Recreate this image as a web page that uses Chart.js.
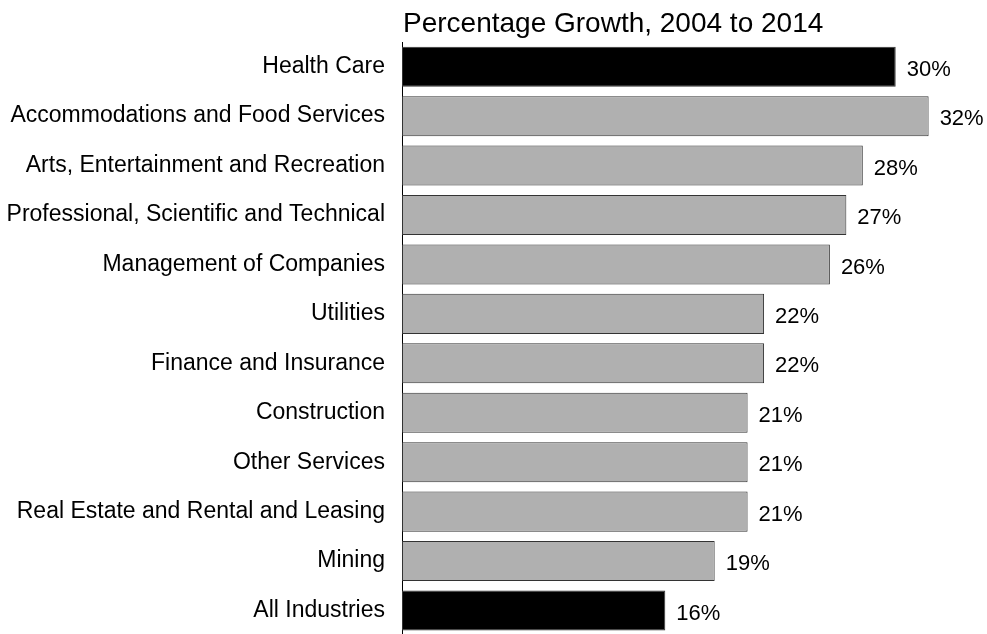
<!DOCTYPE html>
<html>
<head>
<meta charset="utf-8">
<script src="https://cdn.jsdelivr.net/npm/chart.js@4/dist/chart.umd.min.js"></script>
<style>
  html, body { margin: 0; padding: 0; background: #fff; overflow: hidden; }
  #wrap { width: 987px; height: 666px; }
</style>
</head>
<body>
<div id="wrap"><canvas id="growthChart" width="987" height="666"></canvas></div>
<script>
const industries = [
  'Health Care',
  'Accommodations and Food Services',
  'Arts, Entertainment and Recreation',
  'Professional, Scientific and Technical',
  'Management of Companies',
  'Utilities',
  'Finance and Insurance',
  'Construction',
  'Other Services',
  'Real Estate and Rental and Leasing',
  'Mining',
  'All Industries'
];
const growthPct = [30, 32, 28, 27, 26, 22, 22, 21, 21, 21, 19, 16];
const highlighted = ['Health Care', 'All Industries'];
const chartTitle = 'Percentage Growth, 2004 to 2014';

const FONT = 'Liberation Sans, Arial, Helvetica, sans-serif';

const barFill = industries.map(name => highlighted.includes(name) ? '#000000' : '#b0b0b0');

// title sits flush with the left edge of the plot area
const titlePlugin = {
  id: 'leftTitle',
  afterDraw(chart) {
    const c = chart.ctx;
    c.save();
    c.font = '28px ' + FONT;
    c.fillStyle = '#000';
    c.textAlign = 'left';
    c.textBaseline = 'alphabetic';
    c.fillText(chartTitle, chart.chartArea.left + 1, 32);
    c.restore();
  }
};

// percentage text to the right of each bar
const valueLabels = {
  id: 'valueLabels',
  afterDatasetsDraw(chart) {
    const c = chart.ctx;
    const meta = chart.getDatasetMeta(0);
    c.save();
    c.font = '22px ' + FONT;
    c.fillStyle = '#000';
    c.textAlign = 'left';
    c.textBaseline = 'middle';
    meta.data.forEach((bar, i) => {
      c.fillText(growthPct[i] + '%', bar.x + 11, bar.y + 3);
    });
    c.restore();
  }
};

new Chart(document.getElementById('growthChart'), {
  type: 'bar',
  data: {
    labels: industries,
    datasets: [{
      data: growthPct,
      backgroundColor: barFill,
      borderColor: '#333333',
      borderWidth: 1,
      borderSkipped: false,
      barPercentage: 0.81,
      categoryPercentage: 1
    }]
  },
  options: {
    indexAxis: 'y',
    responsive: false,
    animation: false,
    layout: { padding: { top: 42, right: 9, bottom: 0, left: 0 } },
    plugins: {
      legend: { display: false },
      tooltip: { enabled: false },
      title: { display: false }
    },
    scales: {
      x: {
        display: false,
        min: 0,
        max: 35
      },
      y: {
        grid: { display: false, drawTicks: false },
        border: { display: true, color: '#000', width: 1 },
        ticks: {
          color: '#000',
          padding: 17,
          font: { family: FONT, size: 23 }
        },
        afterFit(scale) { scale.width = 402; }
      }
    }
  },
  plugins: [titlePlugin, valueLabels]
});
</script>
</body>
</html>
